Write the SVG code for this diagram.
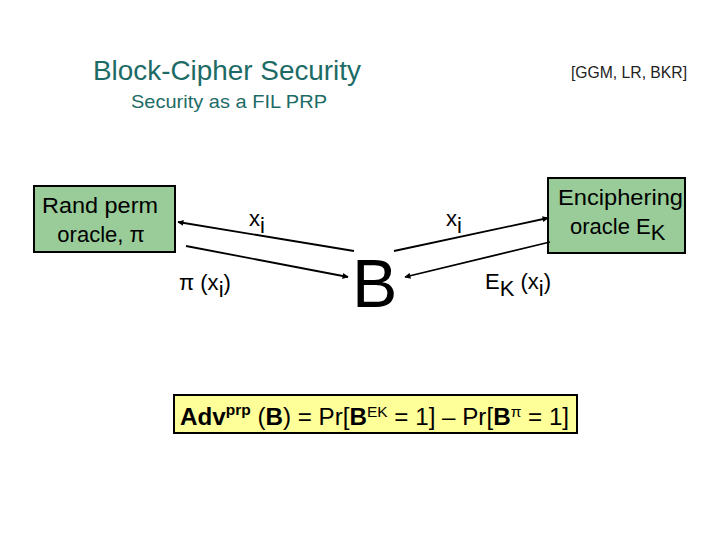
<svg xmlns="http://www.w3.org/2000/svg" width="720" height="540" viewBox="0 0 720 540">
<defs>
<marker id="ah" viewBox="0 0 10 10" refX="9" refY="5" markerWidth="8" markerHeight="6" orient="auto" markerUnits="userSpaceOnUse">
<path d="M0,0 L10,5 L0,10 z" fill="#000"/>
</marker>
<style>
text{font-family:"Liberation Sans",Arial,sans-serif;}
.teal{fill:#1d6b66;}
.box{fill:#99cc99;stroke:#000;stroke-width:2;}
.lbl{font-size:22px;fill:#000;}
.conn line{stroke:#000;stroke-width:1.8;marker-end:url(#ah);}
</style>
</defs>
<rect width="720" height="540" fill="#fff"/>
<g id="title">
<text class="teal" x="93" y="80" font-size="27.5" textLength="268" lengthAdjust="spacingAndGlyphs">Block-Cipher Security</text>
<text class="teal" x="131" y="108" font-size="19" textLength="196" lengthAdjust="spacingAndGlyphs">Security as a FIL PRP</text>
<text x="571" y="78" font-size="16" fill="#222" textLength="116" lengthAdjust="spacingAndGlyphs">[GGM, LR, BKR]</text>
</g>
<g id="rand-perm-oracle">
<rect class="box" x="34" y="186" width="141" height="66"/>
<text class="lbl" x="42" y="213" font-size="23.5" textLength="116" lengthAdjust="spacingAndGlyphs">Rand perm</text>
<text class="lbl" x="101" y="242" text-anchor="middle" font-size="23.5">oracle, π</text>
</g>
<g id="enciphering-oracle">
<rect class="box" x="548" y="178" width="137" height="75"/>
<text class="lbl" x="558" y="205" font-size="25" textLength="125" lengthAdjust="spacingAndGlyphs">Enciphering</text>
<text class="lbl" x="570" y="234" font-size="24.5">oracle E<tspan dy="6">K</tspan></text>
</g>
<g id="adversary-B">
<text x="352" y="307" font-size="68" fill="#000">B</text>
</g>
<g id="connectors" class="conn">
<line x1="354" y1="251" x2="178" y2="222"/>
<line x1="186" y1="246" x2="348" y2="277"/>
<line x1="394" y1="251" x2="548" y2="218"/>
<line x1="550" y1="242" x2="405" y2="277"/>
</g>
<g id="connector-labels">
<text class="lbl" x="249" y="226">x<tspan dy="7">i</tspan></text>
<text class="lbl" x="179" y="290" font-size="23.5">π (x<tspan dy="7">i</tspan><tspan dy="-7">)</tspan></text>
<text class="lbl" x="446" y="226">x<tspan dy="7">i</tspan></text>
<text class="lbl" x="485" y="289">E<tspan dy="7">K</tspan><tspan dy="-7"> (x</tspan><tspan dy="7">i</tspan><tspan dy="-7">)</tspan></text>
</g>
<g id="advantage-formula">
<rect x="174" y="395" width="403" height="38" fill="#ffff99" stroke="#000" stroke-width="2"/>
<text x="180" y="425" font-size="24.2" fill="#000"><tspan font-weight="bold">Adv</tspan><tspan font-weight="bold" font-size="15.5" dy="-10">prp</tspan><tspan dy="10"> (</tspan><tspan font-weight="bold">B</tspan>) = Pr[<tspan font-weight="bold">B</tspan><tspan font-size="15.5" dy="-8">EK</tspan><tspan dy="8"> = 1] – Pr[</tspan><tspan font-weight="bold">B</tspan><tspan font-size="15.5" dy="-8">π</tspan><tspan dy="8"> = 1]</tspan></text>
</g>
</svg>
